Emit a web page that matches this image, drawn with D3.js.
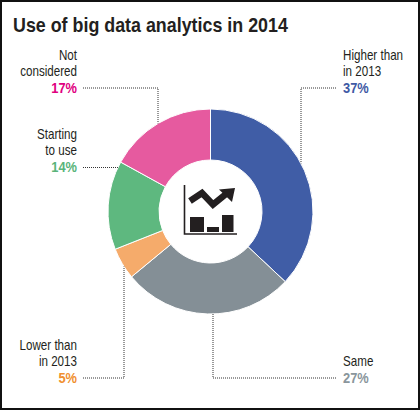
<!DOCTYPE html>
<html>
<head>
<meta charset="utf-8">
<style>
  html, body { margin: 0; padding: 0; background: #fff; }
  text { font-family: "Liberation Sans", Arial, sans-serif; }
</style>
</head>
<body>
<div id="chart_container"></div>
<script src="https://cdn.jsdelivr.net/npm/d3@7"></script>
<script>
// data
const categories = ['Higher than in 2013', 'Same', 'Lower than in 2013', 'Starting to use', 'Not considered']
const values = [37, 27, 5, 14, 17]
const sliceColors = ['#405da6', '#848f96', '#f5ab6b', '#5eb87f', '#e65a9f']
const pctColors = ['#3f5aa5', '#8a969c', '#f0902e', '#5ab47a', '#e0007f']
const labelLines = [['Higher than', 'in 2013'], ['Same'], ['Lower than', 'in 2013'], ['Starting', 'to use'], ['Not', 'considered']]

const width = 420
const height = 410
const cx = 210.5
const cy = 211.5
const outerR = 102.5
const innerR = 51.5
const narrow = 0.83 // squeeze the sans to look like a condensed face

// where each label sits and how its leader runs
const layout = [
  { side: 'right', x: 343, base: 93, ly: 88, x0: 336, elbow: 301, dir: -1 },
  { side: 'right', x: 343, base: 383, ly: 378, x0: 336, elbow: 213, dir: 1 },
  { side: 'left', x: 77, base: 383, ly: 378, x0: 83, elbow: 124, dir: 1 },
  { side: 'left', x: 77, base: 172.5, ly: 167.5, x0: 83, elbow: null },
  { side: 'left', x: 77, base: 93, ly: 88, x0: 83, elbow: 158, dir: -1 }
]

const svg = d3.select('#chart_container')
  .append('svg')
  .attr('width', width)
  .attr('height', height)

svg.append('rect')
  .attr('x', 1).attr('y', 1)
  .attr('width', width - 2).attr('height', height - 2)
  .attr('fill', 'none')
  .attr('stroke', '#111')
  .attr('stroke-width', 2)

// title, squeezed to the width it has in the original
const titleG = svg.append('g')
const title = titleG.append('text')
  .attr('x', 0)
  .attr('y', 32)
  .attr('font-size', 20)
  .attr('font-weight', 'bold')
  .attr('fill', '#231f20')
  .text('Use of big data analytics in 2014')
const tw = title.node().getComputedTextLength()
titleG.attr('transform', `translate(13,0) scale(${275 / tw},1)`)

const pie = d3.pie().sort(null).value(d => d)
const arcs = pie(values)
const arc = d3.arc().innerRadius(innerR).outerRadius(outerR)

const g = svg.append('g').attr('transform', `translate(${cx},${cy})`)

g.selectAll('path.slice')
  .data(arcs)
  .enter()
  .append('path')
  .attr('class', 'slice')
  .attr('d', arc)
  .attr('fill', (d, i) => sliceColors[i])
  .attr('stroke', '#fff')
  .attr('stroke-width', 1)

// leader lines, ending on the outer edge of the ring
const leaders = svg.append('g')
  .attr('fill', 'none')
  .attr('stroke', '#333')
  .attr('stroke-width', 1)
  .attr('stroke-dasharray', '1,1')

layout.forEach((l, i) => {
  let pts
  if (l.elbow === null) {
    const dy = l.ly - cy
    const ex = cx - Math.sqrt(outerR * outerR - dy * dy)
    pts = [[l.x0, l.ly], [ex, l.ly]]
  } else {
    const dx = l.elbow - cx
    const ey = cy + l.dir * Math.sqrt(outerR * outerR - dx * dx)
    pts = [[l.x0, l.ly], [l.elbow, l.ly], [l.elbow, ey]]
  }
  leaders.append('path').attr('d', d3.line()(pts))
})

// labels
layout.forEach((l, i) => {
  const anchor = l.side === 'left' ? 'end' : 'start'
  const lines = labelLines[i]
  const lg = svg.append('g')
    .attr('transform', `translate(${l.x},0) scale(${narrow},1)`)
    .attr('text-anchor', anchor)
  lines.forEach((s, j) => {
    lg.append('text')
      .attr('x', 0)
      .attr('y', l.base - 17.2 - (lines.length - 1 - j) * 15.8)
      .attr('font-size', 14)
      .attr('fill', '#231f20')
      .text(s)
  })
  lg.append('text')
    .attr('x', 0)
    .attr('y', l.base)
    .attr('font-size', 15.5)
    .attr('font-weight', 'bold')
    .attr('fill', pctColors[i])
    .text(values[i] + '%')
})

// chart icon in the hole
const icon = svg.append('g').attr('fill', '#231f20')
icon.append('path')
  .attr('d', 'M184.5,185 V234 H237')
  .attr('fill', 'none')
  .attr('stroke', '#231f20')
  .attr('stroke-width', 1.6)
const bars = [[190, 217, 14], [207, 227, 12], [222, 215, 11.5]]
bars.forEach(b => {
  icon.append('rect').attr('x', b[0]).attr('y', b[1]).attr('width', b[2]).attr('height', 232 - b[1])
})
icon.append('path')
  .attr('d', 'M190,201 L202,193 L213,204.5 L226,194')
  .attr('fill', 'none')
  .attr('stroke', '#231f20')
  .attr('stroke-width', 6.5)
  .attr('stroke-linejoin', 'miter')
icon.append('path')
  .attr('d', 'M235,188 L219,189.5 L232,202 Z')
</script>
</body>
</html>
